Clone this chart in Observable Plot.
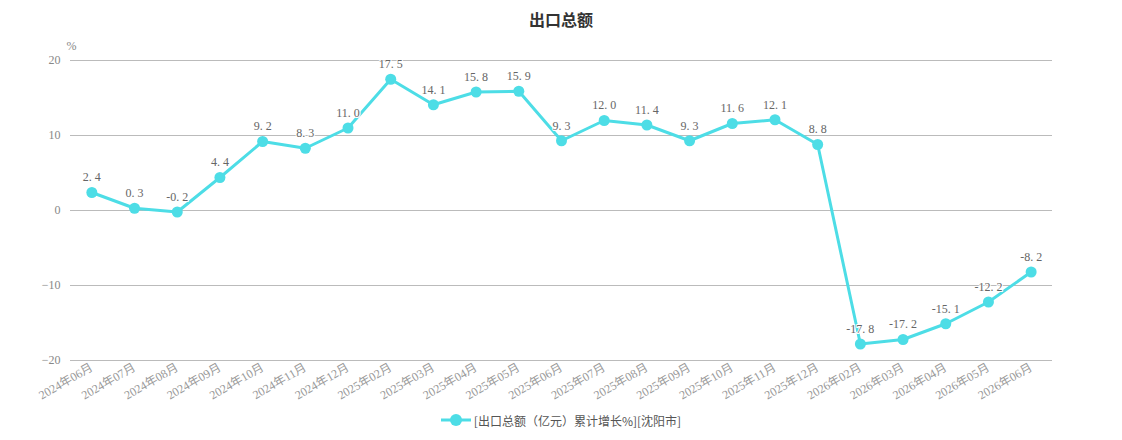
<!DOCTYPE html>
<html>
<head>
<meta charset="utf-8">
<script src="https://cdn.jsdelivr.net/npm/d3@7"></script>
<script src="https://cdn.jsdelivr.net/npm/@observablehq/plot@0.6"></script>
<style>
  body { margin: 0; background: #fff; width: 1122px; height: 440px; overflow: hidden; }
  #title { height: 38px; line-height: 38px; text-align: center; font-family: "Noto Sans CJK SC", sans-serif; font-size: 16px; font-weight: bold; color: #333; }
  #chart { height: 372px; }
  #chart svg { overflow: visible; }
  #legend { height: 20px; display: flex; align-items: center; justify-content: center; font-family: "Noto Sans CJK SC", sans-serif; font-size: 12px; color: #555; }
  #legend svg { margin-right: 3px; }
</style>
</head>
<body>
<div id="title">出口总额</div>
<div id="chart"></div>
<div id="legend"></div>
<script>
const months = ["2024年06月","2024年07月","2024年08月","2024年09月","2024年10月","2024年11月","2024年12月","2025年02月","2025年03月","2025年04月","2025年05月","2025年06月","2025年07月","2025年08月","2025年09月","2025年10月","2025年11月","2025年12月","2026年02月","2026年03月","2026年04月","2026年05月","2026年06月"];
const values = [2.4, 0.3, -0.2, 4.4, 9.2, 8.3, 11.0, 17.5, 14.1, 15.8, 15.9, 9.3, 12.0, 11.4, 9.3, 11.6, 12.1, 8.8, -17.8, -17.2, -15.1, -12.2, -8.2];
const yTicks = [-20, -10, 0, 10, 20];
const seriesName = "[出口总额（亿元）累计增长%][沈阳市]";
const lineColor = "#4ddde6";

const data = months.map((m, i) => ({month: m, value: values[i]}));
const digitFont = "'Liberation Serif', 'Noto Sans CJK SC', serif";

const chart = Plot.plot({
  width: 1122,
  height: 372,
  marginLeft: 70,
  marginRight: 70,
  marginTop: 22,
  marginBottom: 50,
  style: {fontFamily: digitFont, fontSize: "12px", color: "#888", background: "#fff", overflow: "visible"},
  x: {type: "band", domain: months, padding: 0, align: 0.5, round: false},
  y: {domain: [-20, 20], ticks: yTicks},
  marks: [
    Plot.gridY(yTicks, {stroke: "#bbb", strokeOpacity: 1, strokeWidth: 1}),
    Plot.axisY({ticks: yTicks, tickSize: 0, tickPadding: 10, label: "%", labelAnchor: "top", labelArrow: "none", labelOffset: 4, fill: "#888", fontSize: 12}),
    Plot.axisX({tickSize: 0, tickRotate: -30, tickPadding: 6, label: null, fill: "#999", fontSize: 12}),
    Plot.line(data, {x: "month", y: "value", stroke: lineColor, strokeWidth: 3}),
    Plot.dot(data, {x: "month", y: "value", fill: lineColor, r: 5.5}),
    Plot.text(data, {x: "month", y: "value", text: d => d.value.toFixed(1).replace(".", ". "), dy: -15, fill: "#666", fontSize: 12, stroke: "#fff", strokeWidth: 2, paintOrder: "stroke"})
  ]
});
document.getElementById("chart").appendChild(chart);

// Legend
const lg = document.getElementById("legend");
const ns = "http://www.w3.org/2000/svg";
const sw = document.createElementNS(ns, "svg");
sw.setAttribute("width", 30); sw.setAttribute("height", 14);
const ln = document.createElementNS(ns, "line");
ln.setAttribute("x1", 0); ln.setAttribute("x2", 30); ln.setAttribute("y1", 7); ln.setAttribute("y2", 7);
ln.setAttribute("stroke", lineColor); ln.setAttribute("stroke-width", 3);
const c = document.createElementNS(ns, "circle");
c.setAttribute("cx", 15); c.setAttribute("cy", 7); c.setAttribute("r", 6); c.setAttribute("fill", lineColor);
sw.appendChild(ln); sw.appendChild(c);
lg.appendChild(sw);
const sp = document.createElement("span");
sp.textContent = seriesName;
lg.appendChild(sp);
</script>
</body>
</html>
